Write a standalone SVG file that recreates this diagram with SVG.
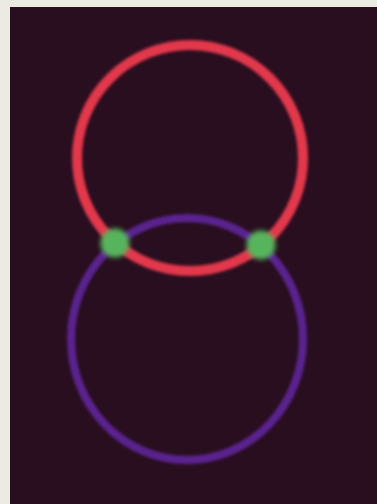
<svg xmlns="http://www.w3.org/2000/svg" width="377" height="504" viewBox="0 0 377 504">
<defs>
<style>
.ring{fill:none;filter:url(#soft)}
.dot{fill:#57b55c;filter:url(#soft2)}
</style>
<filter id="soft" x="-20%" y="-20%" width="140%" height="140%"><feGaussianBlur stdDeviation="1.6"/></filter>
<filter id="soft2" x="-50%" y="-50%" width="200%" height="200%"><feGaussianBlur stdDeviation="2.5"/></filter>
</defs>
<rect x="0" y="0" width="377" height="504" fill="#ecebe3"/>
<rect x="10" y="7" width="367" height="497" fill="#290e1f"/>
<g id="connectors">
<ellipse id="purple-ring" class="ring" cx="187" cy="339" rx="116" ry="121" stroke="#5a2190" stroke-width="8"/>
<circle id="red-ring" class="ring" cx="190" cy="158" r="113" stroke="#e3374c" stroke-width="10"/>
</g>
<g id="node-left"><circle class="dot" cx="115" cy="243" r="14.5"/></g>
<g id="node-right"><circle class="dot" cx="261" cy="245" r="14.5"/></g>
</svg>
